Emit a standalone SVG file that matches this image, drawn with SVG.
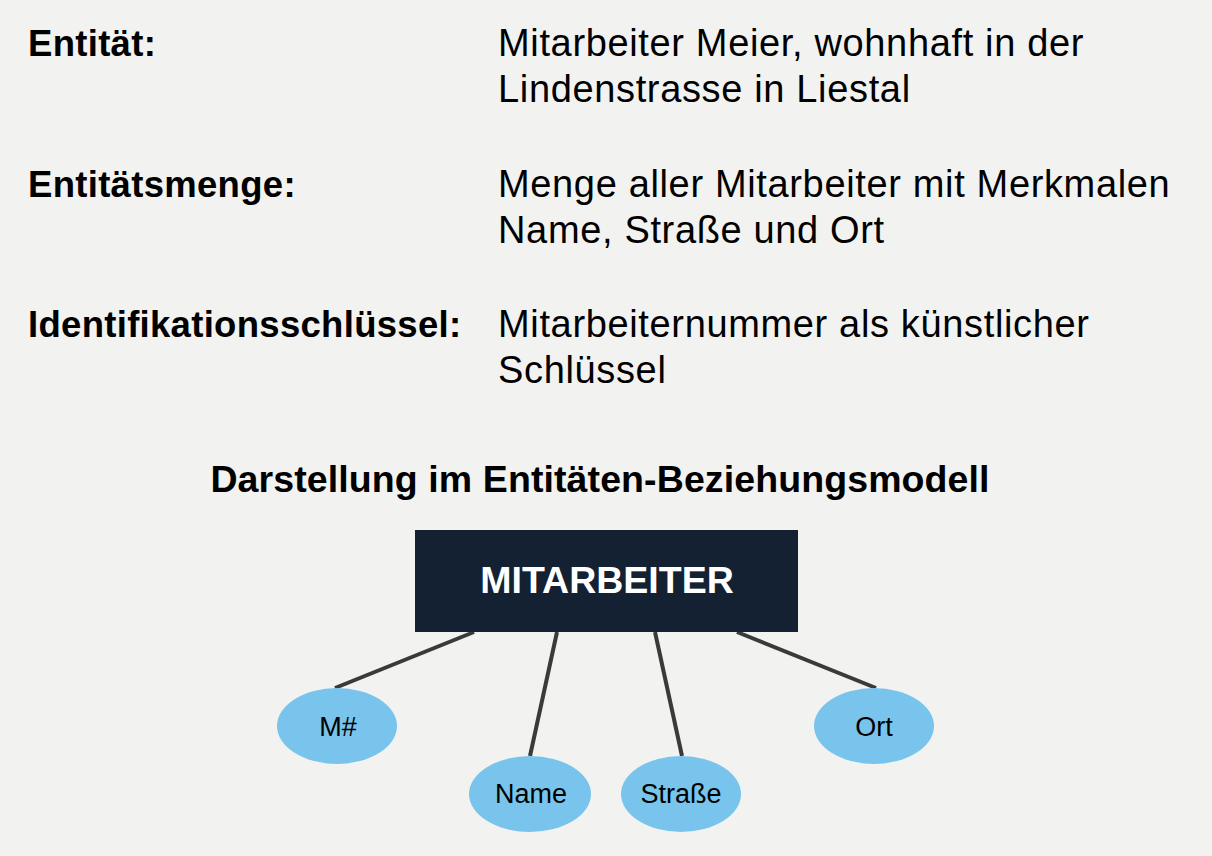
<svg xmlns="http://www.w3.org/2000/svg" width="1212" height="856" viewBox="0 0 1212 856">
<style>
.t{font-family:"Liberation Sans",Arial,sans-serif;fill:#000;}
.lbl{font-size:36.5px;font-weight:bold;letter-spacing:0.3px;}
.txt{font-size:38px;letter-spacing:0.65px;}
.title{font-size:37.5px;font-weight:bold;letter-spacing:0.1px;}
.ent{fill:#132132;}
.entt{font-family:"Liberation Sans",Arial,sans-serif;font-size:37.5px;font-weight:bold;fill:#fff;}
.attr{fill:#78c4ec;}
.attrt{font-family:"Liberation Sans",Arial,sans-serif;font-size:27px;fill:#000;}
.con line{stroke:#3a3a3a;stroke-width:4;}
</style>
<rect width="1212" height="856" fill="#f2f2f1"/>
<g id="text">
<text class="t lbl" x="28" y="56">Entität:</text>
<text class="t txt" x="498" y="56">Mitarbeiter Meier, wohnhaft in der</text>
<text class="t txt" x="498" y="102">Lindenstrasse in Liestal</text>
<text class="t lbl" x="28" y="197">Entitätsmenge:</text>
<text class="t txt" x="498" y="197">Menge aller Mitarbeiter mit Merkmalen</text>
<text class="t txt" x="498" y="243">Name, Straße und Ort</text>
<text class="t lbl" x="28" y="337">Identifikationsschlüssel:</text>
<text class="t txt" x="498" y="337">Mitarbeiternummer als künstlicher</text>
<text class="t txt" x="498" y="383">Schlüssel</text>
<text class="t title" x="600" y="492" text-anchor="middle">Darstellung im Entitäten-Beziehungsmodell</text>
</g>
<g class="con" id="connectors">
<line x1="474" y1="632" x2="335" y2="688"/>
<line x1="557" y1="632" x2="530" y2="756"/>
<line x1="655" y1="632" x2="682" y2="756"/>
<line x1="737" y1="632" x2="876" y2="688"/>
</g>
<g id="mitarbeiter">
<rect class="ent" x="415" y="530" width="383" height="102"/>
<text class="entt" x="607" y="593" text-anchor="middle">MITARBEITER</text>
</g>
<g id="mnr">
<ellipse class="attr" cx="337" cy="726" rx="60" ry="38"/>
<text class="attrt" x="338" y="736" text-anchor="middle">M#</text>
</g>
<g id="name">
<ellipse class="attr" cx="530" cy="794" rx="61" ry="38"/>
<text class="attrt" x="531" y="803" text-anchor="middle">Name</text>
</g>
<g id="strasse">
<ellipse class="attr" cx="681" cy="794" rx="60" ry="38"/>
<text class="attrt" x="681" y="803" text-anchor="middle">Straße</text>
</g>
<g id="ort">
<ellipse class="attr" cx="874" cy="726" rx="60" ry="38"/>
<text class="attrt" x="874" y="736" text-anchor="middle">Ort</text>
</g>
</svg>
